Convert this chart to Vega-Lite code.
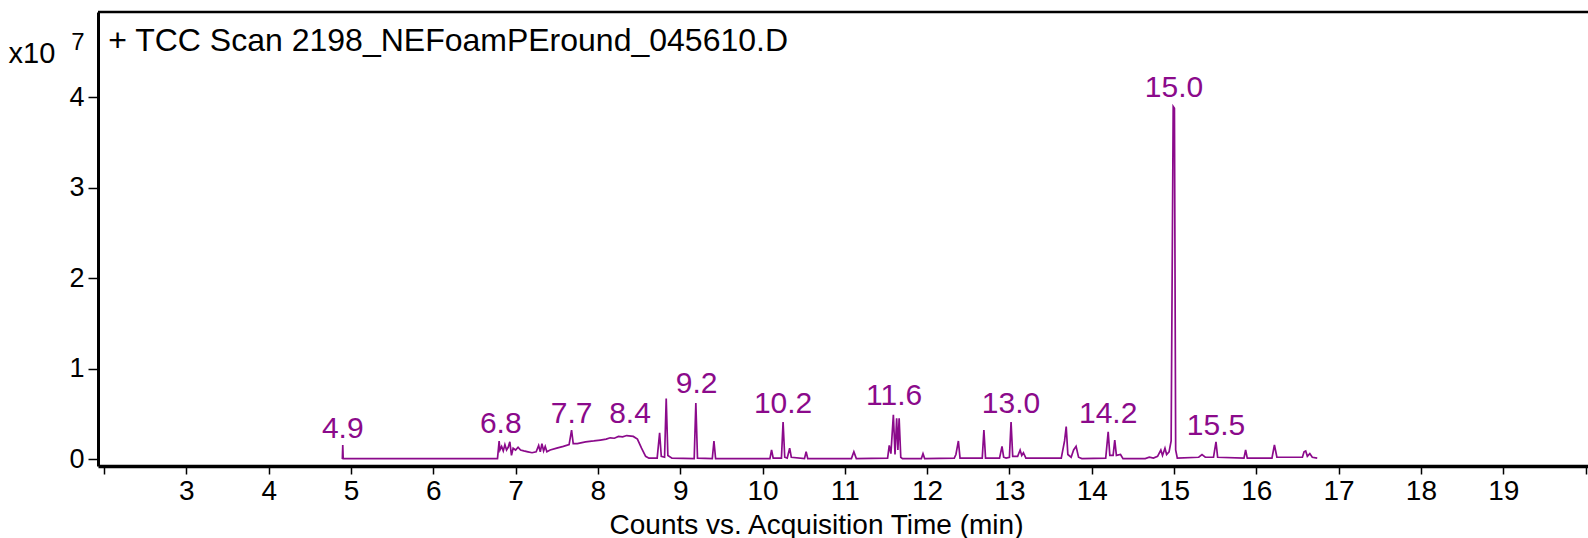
{
  "$schema": "https://vega.github.io/schema/vega-lite/v6.json",
  "width": 1490,
  "height": 454,
  "autosize": "none",
  "padding": {"left": 98, "top": 12, "right": 0, "bottom": 72},
  "background": "white",
  "config": {
    "font": "Liberation Sans",
    "view": {"stroke": null}
  },
  "layer": [
    {
      "data": {"values": [
        {"t": 4.895, "v": 0.0}, {"t": 4.9, "v": 0.155}, {"t": 4.905, "v": 0.005}, {"t": 5.63, "v": 0.005}, {"t": 6.78, "v": 0.005},
        {"t": 6.8, "v": 0.2}, {"t": 6.81, "v": 0.1}, {"t": 6.83, "v": 0.14}, {"t": 6.85, "v": 0.09}, {"t": 6.87, "v": 0.16},
        {"t": 6.89, "v": 0.1}, {"t": 6.91, "v": 0.13}, {"t": 6.93, "v": 0.19}, {"t": 6.95, "v": 0.04}, {"t": 6.97, "v": 0.12},
        {"t": 7.0, "v": 0.1}, {"t": 7.03, "v": 0.13}, {"t": 7.06, "v": 0.1}, {"t": 7.1, "v": 0.09}, {"t": 7.15, "v": 0.08},
        {"t": 7.2, "v": 0.07}, {"t": 7.25, "v": 0.08}, {"t": 7.28, "v": 0.15}, {"t": 7.3, "v": 0.08}, {"t": 7.32, "v": 0.17},
        {"t": 7.34, "v": 0.09}, {"t": 7.36, "v": 0.14}, {"t": 7.38, "v": 0.08}, {"t": 7.42, "v": 0.1}, {"t": 7.5, "v": 0.12},
        {"t": 7.58, "v": 0.14}, {"t": 7.65, "v": 0.16}, {"t": 7.68, "v": 0.32}, {"t": 7.7, "v": 0.17}, {"t": 7.75, "v": 0.17},
        {"t": 7.85, "v": 0.19}, {"t": 7.95, "v": 0.2}, {"t": 8.03, "v": 0.21}, {"t": 8.1, "v": 0.22}, {"t": 8.15, "v": 0.235},
        {"t": 8.2, "v": 0.23}, {"t": 8.25, "v": 0.25}, {"t": 8.3, "v": 0.245}, {"t": 8.35, "v": 0.26}, {"t": 8.43, "v": 0.25},
        {"t": 8.48, "v": 0.22}, {"t": 8.53, "v": 0.12}, {"t": 8.58, "v": 0.03}, {"t": 8.62, "v": 0.01}, {"t": 8.72, "v": 0.01},
        {"t": 8.75, "v": 0.29}, {"t": 8.77, "v": 0.03}, {"t": 8.81, "v": 0.02}, {"t": 8.83, "v": 0.67}, {"t": 8.85, "v": 0.04},
        {"t": 8.9, "v": 0.01}, {"t": 9.17, "v": 0.005}, {"t": 9.19, "v": 0.62}, {"t": 9.21, "v": 0.01}, {"t": 9.39, "v": 0.005},
        {"t": 9.41, "v": 0.2}, {"t": 9.43, "v": 0.005}, {"t": 10.09, "v": 0.005}, {"t": 10.11, "v": 0.1}, {"t": 10.13, "v": 0.01},
        {"t": 10.23, "v": 0.01}, {"t": 10.25, "v": 0.41}, {"t": 10.27, "v": 0.02}, {"t": 10.3, "v": 0.01}, {"t": 10.33, "v": 0.12},
        {"t": 10.35, "v": 0.02}, {"t": 10.51, "v": 0.005}, {"t": 10.53, "v": 0.08}, {"t": 10.55, "v": 0.005}, {"t": 11.08, "v": 0.005},
        {"t": 11.11, "v": 0.08}, {"t": 11.14, "v": 0.005}, {"t": 11.52, "v": 0.01}, {"t": 11.54, "v": 0.15}, {"t": 11.56, "v": 0.06},
        {"t": 11.59, "v": 0.49}, {"t": 11.61, "v": 0.05}, {"t": 11.63, "v": 0.45}, {"t": 11.645, "v": 0.1}, {"t": 11.66, "v": 0.45},
        {"t": 11.68, "v": 0.02}, {"t": 11.7, "v": 0.005}, {"t": 11.93, "v": 0.005}, {"t": 11.95, "v": 0.06}, {"t": 11.97, "v": 0.005},
        {"t": 12.33, "v": 0.01}, {"t": 12.35, "v": 0.05}, {"t": 12.38, "v": 0.2}, {"t": 12.4, "v": 0.01}, {"t": 12.67, "v": 0.01},
        {"t": 12.69, "v": 0.32}, {"t": 12.71, "v": 0.01}, {"t": 12.88, "v": 0.01}, {"t": 12.91, "v": 0.14}, {"t": 12.93, "v": 0.02},
        {"t": 12.96, "v": 0.01}, {"t": 13.0, "v": 0.02}, {"t": 13.02, "v": 0.41}, {"t": 13.04, "v": 0.03}, {"t": 13.1, "v": 0.03},
        {"t": 13.13, "v": 0.1}, {"t": 13.15, "v": 0.04}, {"t": 13.17, "v": 0.07}, {"t": 13.2, "v": 0.01}, {"t": 13.63, "v": 0.01},
        {"t": 13.67, "v": 0.2}, {"t": 13.69, "v": 0.36}, {"t": 13.71, "v": 0.05}, {"t": 13.75, "v": 0.02}, {"t": 13.78, "v": 0.1},
        {"t": 13.81, "v": 0.14}, {"t": 13.84, "v": 0.02}, {"t": 13.88, "v": 0.005}, {"t": 14.17, "v": 0.01}, {"t": 14.2, "v": 0.3},
        {"t": 14.22, "v": 0.04}, {"t": 14.26, "v": 0.04}, {"t": 14.28, "v": 0.21}, {"t": 14.3, "v": 0.04}, {"t": 14.35, "v": 0.05},
        {"t": 14.38, "v": 0.005}, {"t": 14.65, "v": 0.005}, {"t": 14.7, "v": 0.02}, {"t": 14.75, "v": 0.01}, {"t": 14.8, "v": 0.03},
        {"t": 14.84, "v": 0.1}, {"t": 14.86, "v": 0.04}, {"t": 14.89, "v": 0.12}, {"t": 14.91, "v": 0.05}, {"t": 14.94, "v": 0.08},
        {"t": 14.965, "v": 0.2}, {"t": 14.99, "v": 3.9}, {"t": 15.005, "v": 3.88}, {"t": 15.02, "v": 0.1}, {"t": 15.04, "v": 0.01},
        {"t": 15.3, "v": 0.02}, {"t": 15.34, "v": 0.05}, {"t": 15.38, "v": 0.02}, {"t": 15.48, "v": 0.02}, {"t": 15.51, "v": 0.19},
        {"t": 15.53, "v": 0.02}, {"t": 15.85, "v": 0.01}, {"t": 15.87, "v": 0.1}, {"t": 15.89, "v": 0.01}, {"t": 16.19, "v": 0.01},
        {"t": 16.22, "v": 0.155}, {"t": 16.25, "v": 0.02}, {"t": 16.56, "v": 0.02}, {"t": 16.58, "v": 0.08}, {"t": 16.6, "v": 0.09},
        {"t": 16.62, "v": 0.03}, {"t": 16.65, "v": 0.06}, {"t": 16.68, "v": 0.02}, {"t": 16.74, "v": 0.01}
      ]},
      "mark": {"type": "line", "color": "#8b0a8b", "strokeWidth": 1.7},
      "encoding": {
        "x": {
          "field": "t", "type": "quantitative",
          "scale": {"domain": [1.926, 20.03], "nice": false, "zero": false},
          "axis": {
            "values": [2, 3, 4, 5, 6, 7, 8, 9, 10, 11, 12, 13, 14, 15, 16, 17, 18, 19, 20],
            "format": "d",
            "labelExpr": "datum.value == 2 || datum.value == 20 ? '' : datum.label",
            "grid": false,
            "domainColor": "black", "domainWidth": 3.5,
            "tickColor": "black", "tickWidth": 1.5, "tickSize": 8,
            "labelFontSize": 28, "labelColor": "black", "labelBaseline": "alphabetic", "labelPadding": 25,
            "labelFlush": false, "labelOverlap": false,
            "title": "Counts vs. Acquisition Time (min)",
            "titleFontSize": 28, "titleFontWeight": "normal", "titleColor": "black",
            "titleX": 718, "titleY": 67, "titleBaseline": "alphabetic", "titleAnchor": null
          }
        },
        "y": {
          "field": "v", "type": "quantitative",
          "scale": {"domain": [-0.077, 4.945], "nice": false, "zero": false},
          "axis": {
            "values": [0, 1, 2, 3, 4],
            "format": "d",
            "grid": false,
            "domainColor": "black", "domainWidth": 3,
            "tickColor": "black", "tickWidth": 1.5, "tickSize": 10,
            "labelFontSize": 27, "labelColor": "black", "labelPadding": 4,
            "title": "x10",
            "titleAngle": 0, "titleAlign": "left", "titleBaseline": "alphabetic",
            "titleX": -90, "titleY": 50,
            "titleFontSize": 29, "titleFontWeight": "normal", "titleColor": "black"
          }
        }
      }
    },
    {
      "data": {"values": [
        {"t": 4.9, "v": 0.23, "label": "4.9"},
        {"t": 6.82, "v": 0.284, "label": "6.8"},
        {"t": 7.68, "v": 0.4, "label": "7.7"},
        {"t": 8.39, "v": 0.4, "label": "8.4"},
        {"t": 9.2, "v": 0.727, "label": "9.2"},
        {"t": 10.25, "v": 0.512, "label": "10.2"},
        {"t": 11.6, "v": 0.6, "label": "11.6"},
        {"t": 13.02, "v": 0.505, "label": "13.0"},
        {"t": 14.2, "v": 0.395, "label": "14.2"},
        {"t": 15.0, "v": 4.01, "label": "15.0"},
        {"t": 15.51, "v": 0.265, "label": "15.5"}
      ]},
      "mark": {"type": "text", "color": "#8b0a8b", "fontSize": 30, "align": "center", "baseline": "alphabetic"},
      "encoding": {
        "x": {"field": "t", "type": "quantitative"},
        "y": {"field": "v", "type": "quantitative"},
        "text": {"field": "label"}
      }
    },
    {
      "data": {"values": [{"note": "scan"}]},
      "mark": {"type": "text", "color": "black", "fontSize": 32, "align": "left", "baseline": "alphabetic"},
      "encoding": {
        "x": {"datum": 2.05, "type": "quantitative"},
        "y": {"datum": 4.51, "type": "quantitative"},
        "text": {"value": "+ TCC Scan 2198_NEFoamPEround_045610.D"}
      }
    },
    {
      "data": {"values": [{"note": "exponent"}]},
      "mark": {"type": "text", "color": "black", "fontSize": 24, "align": "left", "baseline": "alphabetic"},
      "encoding": {
        "x": {"datum": 1.6, "type": "quantitative"},
        "y": {"datum": 4.52, "type": "quantitative"},
        "text": {"value": "7"}
      }
    },
    {
      "data": {"values": [{"note": "frame"}]},
      "mark": {"type": "rule", "color": "black", "strokeWidth": 2.5},
      "encoding": {
        "y": {"datum": 4.945, "type": "quantitative"}
      }
    }
  ]
}
